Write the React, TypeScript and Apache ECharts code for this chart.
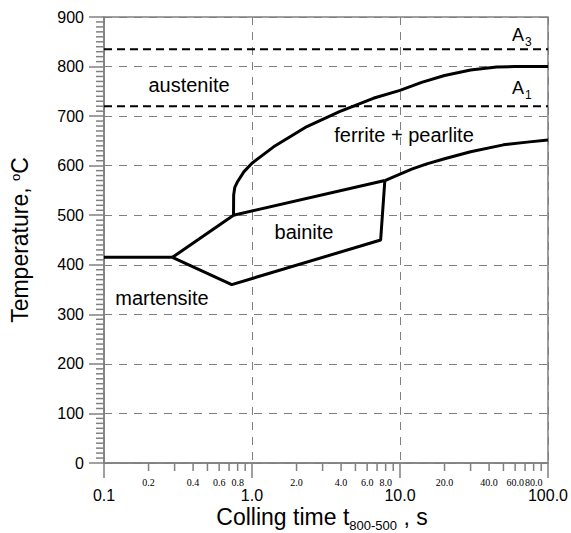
import React, { useEffect, useRef } from "react";
import * as echarts from "echarts";

// Phase boundaries of the CCT diagram: [cooling time t8/5 (s), temperature (°C)]
const martensiteStart: [number, number][] = [
  [0.1, 415],
  [0.29, 415],
];
const bainiteUpper: [number, number][] = [
  [0.29, 415],
  [0.75, 500],
  [7.9, 570],
];
const bainiteLower: [number, number][] = [
  [0.29, 415],
  [0.73, 360],
  [7.4, 450],
  [7.9, 570],
];
const pearliteStart: [number, number][] = [
  [7.9, 570],
  [10, 583],
  [12, 593],
  [15, 603],
  [20, 614],
  [30, 628],
  [50, 642],
  [75, 648],
  [100, 652],
];
const ferriteStart: [number, number][] = [
  [0.75, 500],
  [0.752, 541],
  [0.765, 556],
  [0.796, 567],
  [0.883, 588],
  [1.0, 605],
  [1.4, 638],
  [2.35, 679],
  [3.9, 709],
  [6.6, 736],
  [10, 752],
  [14, 768],
  [20, 782],
  [30, 793],
  [45, 799],
  [60, 800],
  [100, 800],
];

// Critical temperatures
const a3Temp = 835;
const a1Temp = 720;

// Minor ticks of the logarithmic time axis and their labels
const minorTickValues = [
  0.2, 0.3, 0.4, 0.5, 0.6, 0.7, 0.8, 0.9,
  2, 3, 4, 5, 6, 7, 8, 9,
  20, 30, 40, 50, 60, 70, 80, 90,
];
const minorTickLabels = [
  "0.2", "", "0.4", "", "0.6", "", "0.8", "",
  "2.0", "", "4.0", "", "6.0", "", "8.0", "",
  "20.0", "", "40.0", "", "60.0", "", "80.0", "",
];

// Minor ticks of the temperature axis (every 10 °C between the labelled ones)
const tempMinorTicks = [
  10, 20, 30, 40, 50, 60, 70, 80, 90,
  110, 120, 130, 140, 150, 160, 170, 180, 190,
  210, 220, 230, 240, 250, 260, 270, 280, 290,
  310, 320, 330, 340, 350, 360, 370, 380, 390,
  410, 420, 430, 440, 450, 460, 470, 480, 490,
  510, 520, 530, 540, 550, 560, 570, 580, 590,
  610, 620, 630, 640, 650, 660, 670, 680, 690,
  710, 720, 730, 740, 750, 760, 770, 780, 790,
  810, 820, 830, 840, 850, 860, 870, 880, 890,
];

const SANS = '"Liberation Sans", Arial, sans-serif';
const SERIF = '"Liberation Serif", "Times New Roman", serif';
const AXIS_GRAY = "#808080";

function textWidth(text: string, font: string): number {
  const ctx = document.createElement("canvas").getContext("2d");
  if (!ctx) return text.length * 10;
  ctx.font = font;
  return ctx.measureText(text).width;
}

export default function App() {
  const ref = useRef<HTMLDivElement>(null);

  useEffect(() => {
    if (!ref.current) return;
    const chart = echarts.init(ref.current, undefined, { renderer: "svg" });

    const boundary = (data: [number, number][]) => ({
      type: "line",
      data,
      symbol: "none",
      silent: true,
      lineStyle: { color: "#000", width: 3 },
      z: 5,
    });
    const critical = (t: number) => ({
      type: "line",
      data: [
        [0.1, t],
        [100, t],
      ],
      symbol: "none",
      silent: true,
      lineStyle: { color: "#000", width: 2, type: [8, 5] },
      z: 4,
    });

    // x-axis title with subscript, laid out piece by piece
    const mainFont = `23px ${SANS}`;
    const subFont = `13px ${SANS}`;
    const p1 = "Colling time t";
    const p2 = "800-500";
    const p3 = " , s";
    const w1 = textWidth(p1, mainFont);
    const w2 = textWidth(p2, subFont);
    const w3 = textWidth(p3, mainFont);
    const x0 = 322 - (w1 + w2 + w3) / 2;

    const label = (text: string, x: number, y: number, size = 20, align = "center") => ({
      type: "text",
      x,
      y,
      silent: true,
      style: {
        text,
        font: `${size}px ${SANS}`,
        fill: "#000",
        align,
        verticalAlign: "middle",
      },
    });

    chart.setOption({
      animation: false,
      grid: {
        left: 104,
        right: 20,
        top: 17,
        bottom: 70,
        show: true,
        borderColor: AXIS_GRAY,
        borderWidth: 1.5,
        backgroundColor: "transparent",
      },
      xAxis: {
        type: "log",
        logBase: 10,
        min: 0.1,
        max: 100,
        axisLine: { show: true, lineStyle: { color: AXIS_GRAY, width: 1.5 } },
        axisTick: { show: true, length: 15, lineStyle: { color: AXIS_GRAY, width: 1.5 } },
        axisLabel: {
          margin: 24,
          fontSize: 16,
          fontFamily: SANS,
          color: "#000",
          formatter: (v: number) => Number(v).toFixed(1),
        },
        splitLine: { show: true, lineStyle: { color: AXIS_GRAY, width: 1, type: [8, 7] } },
      },
      yAxis: {
        type: "value",
        min: 0,
        max: 900,
        interval: 100,
        axisLine: { show: true, lineStyle: { color: AXIS_GRAY, width: 1.5 } },
        axisTick: { show: true, length: 15, lineStyle: { color: AXIS_GRAY, width: 1.5 } },
        axisLabel: { margin: 20, fontSize: 16, fontFamily: SANS, color: "#000" },
        splitLine: { show: true, lineStyle: { color: AXIS_GRAY, width: 1, type: [8, 7] } },
      },
      series: [
        critical(a3Temp),
        critical(a1Temp),
        boundary(martensiteStart),
        boundary(bainiteUpper),
        boundary(bainiteLower),
        boundary(pearliteStart),
        boundary(ferriteStart),
        {
          // minor ticks and labels on the time axis
          type: "custom",
          coordinateSystem: "cartesian2d",
          clip: false,
          silent: true,
          data: minorTickValues.map((v) => [v, 0]),
          encode: { x: 0, y: 1 },
          renderItem: (params: any, api: any) => {
            const p = api.coord([api.value(0), 0]);
            const txt = minorTickLabels[params.dataIndex];
            const children: any[] = [
              {
                type: "line",
                shape: { x1: p[0], y1: p[1], x2: p[0], y2: p[1] + 8 },
                style: { stroke: AXIS_GRAY, lineWidth: 1.5 },
              },
            ];
            if (txt) {
              children.push({
                type: "text",
                x: p[0],
                y: p[1] + 19,
                style: {
                  text: txt,
                  font: `10px ${SERIF}`,
                  fill: "#000",
                  align: "center",
                  verticalAlign: "middle",
                },
              });
            }
            return { type: "group", children };
          },
        },
        {
          // minor ticks on the temperature axis
          type: "custom",
          coordinateSystem: "cartesian2d",
          clip: false,
          silent: true,
          data: tempMinorTicks.map((v) => [0.1, v]),
          encode: { x: 0, y: 1 },
          renderItem: (_params: any, api: any) => {
            const p = api.coord([0.1, api.value(1)]);
            return {
              type: "line",
              shape: { x1: p[0] - 8, y1: p[1], x2: p[0], y2: p[1] },
              style: { stroke: AXIS_GRAY, lineWidth: 1.5 },
            };
          },
        },
      ],
      graphic: [
        label("austenite", 189, 85),
        label("ferrite + pearlite", 404, 135),
        label("bainite", 304, 232),
        label("martensite", 162, 298),
        label("A", 512, 35, 18, "left"),
        label("3", 525, 42, 12, "left"),
        label("A", 512, 88, 18, "left"),
        label("1", 525, 95, 12, "left"),
        {
          type: "text",
          x: 20,
          y: 240,
          rotation: Math.PI / 2,
          silent: true,
          style: {
            text: "Temperature, {sup|o}C",
            font: `23px ${SANS}`,
            fill: "#000",
            align: "center",
            verticalAlign: "middle",
            rich: {
              sup: { fontSize: 13, fontFamily: SANS, verticalAlign: "top", fill: "#000" },
            },
          },
        },
        {
          type: "text",
          x: x0,
          y: 517,
          silent: true,
          style: { text: p1, font: mainFont, fill: "#000", align: "left", verticalAlign: "middle" },
        },
        {
          type: "text",
          x: x0 + w1,
          y: 525,
          silent: true,
          style: { text: p2, font: subFont, fill: "#000", align: "left", verticalAlign: "middle" },
        },
        {
          type: "text",
          x: x0 + w1 + w2,
          y: 517,
          silent: true,
          style: { text: p3, font: mainFont, fill: "#000", align: "left", verticalAlign: "middle" },
        },
      ],
    });

    return () => chart.dispose();
  }, []);

  return (
    <div
      ref={ref}
      style={{ position: "fixed", left: 0, top: 0, width: 571, height: 533, background: "#fff" }}
    />
  );
}
